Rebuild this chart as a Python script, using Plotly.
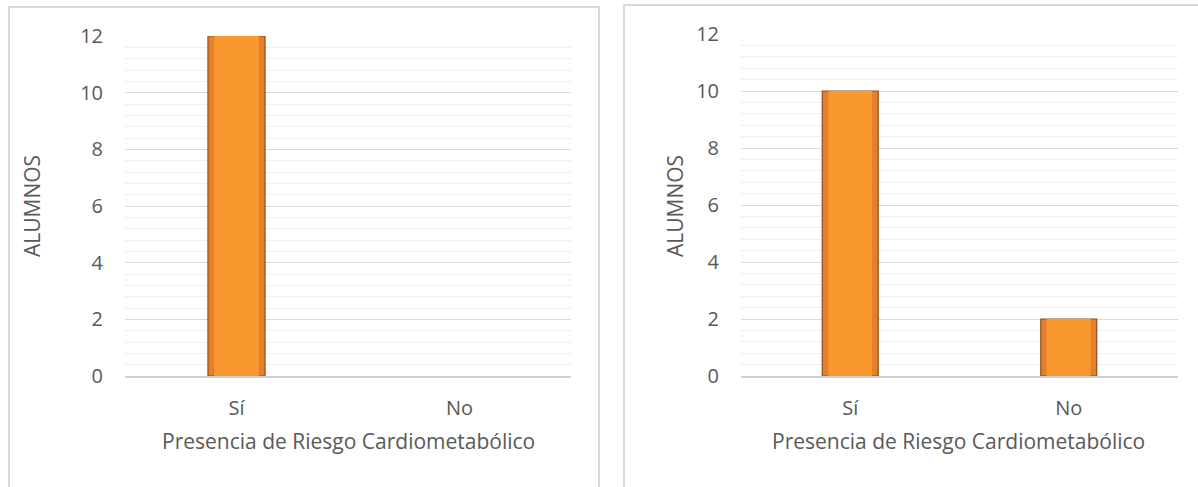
import plotly.graph_objects as go

categories = ["Sí", "No"]
left_values = [12, 0]
right_values = [10, 2]
y_ticks = [0, 2, 4, 6, 8, 10, 12]
x_title = "Presencia de Riesgo Cardiometabólico"
y_title = "ALUMNOS"

W, H = 1198, 487
FONT = "Open Sans"
GREY = "#595959"

def px(x):
    return x / W

def py(y):
    return 1 - y / H

fig = go.Figure()

def add_bars(values, xa, ya):
    lw = [1.2 if v > 0 else 0 for v in values]
    fig.add_trace(go.Bar(
        x=categories, y=values, xaxis=xa, yaxis=ya, width=0.256,
        marker=dict(color="#E5802A", line=dict(color="#8E4E17", width=lw)),
        hoverinfo="x+y", showlegend=False,
    ))
    fig.add_trace(go.Bar(
        x=categories, y=values, xaxis=xa, yaxis=ya, width=0.2,
        marker=dict(color="#F8982F", line=dict(width=0)),
        hoverinfo="skip", showlegend=False,
    ))

add_bars(left_values, "x", "y")
add_bars(right_values, "x2", "y2")

yax = dict(
    range=[0, 12], tickvals=y_ticks, showgrid=True, gridcolor="#d9d9d9", gridwidth=1,
    minor=dict(dtick=0.4, showgrid=True, gridcolor="#efefef", gridwidth=1),
    zeroline=False, showline=False, ticks="", automargin=False,
    tickfont=dict(family=FONT, size=20, color=GREY), ticklabelstandoff=21,
    fixedrange=True,
)
xax = dict(
    showgrid=False, showline=True, linecolor="#d0d0d0", linewidth=2, ticks="",
    automargin=False,
    tickfont=dict(family=FONT, size=20, color=GREY), ticklabelstandoff=13,
    fixedrange=True,
)

fig.update_layout(
    template="none",
    width=W, height=H,
    margin=dict(l=0, r=0, t=0, b=0, pad=0, autoexpand=False),
    paper_bgcolor="white", plot_bgcolor="white",
    barmode="overlay",
    xaxis=dict(domain=[px(125), px(571)], anchor="y", **xax),
    yaxis=dict(domain=[py(376), py(36)], anchor="x", **yax),
    xaxis2=dict(domain=[px(741), px(1178)], anchor="y2", **xax),
    yaxis2=dict(domain=[py(376), py(34)], anchor="x2", **yax),
)

ann_font = dict(family=FONT, size=21, color=GREY)
annotations = [
    dict(x=px(348), y=py(441), text=x_title),
    dict(x=px(958), y=py(441), text=x_title),
]
for a in annotations:
    a.update(xref="paper", yref="paper", showarrow=False, font=ann_font,
             xanchor="center", yanchor="middle")
for xc in (32, 675):
    annotations.append(dict(x=px(xc), y=py(206), xref="paper", yref="paper", text=y_title,
                            textangle=-90, showarrow=False, font=ann_font,
                            xanchor="center", yanchor="middle"))
fig.update_layout(annotations=annotations)

border = dict(color="#d9d9d9", width=2)
shapes = [
    dict(type="line", x0=px(9), x1=px(9), y0=py(6), y1=py(500), line=border),
    dict(type="line", x0=px(8), x1=px(600), y0=py(7), y1=py(7), line=border),
    dict(type="line", x0=px(599), x1=px(599), y0=py(6), y1=py(500), line=border),
    dict(type="line", x0=px(624), x1=px(624), y0=py(4), y1=py(500), line=border),
    dict(type="line", x0=px(623), x1=px(1200), y0=py(5), y1=py(5), line=border),
]
for s in shapes:
    s.update(xref="paper", yref="paper")
fig.update_layout(shapes=shapes)

fig.write_html("out.html", config={"displayModeBar": False},
               post_script="document.body.style.margin='0';")
